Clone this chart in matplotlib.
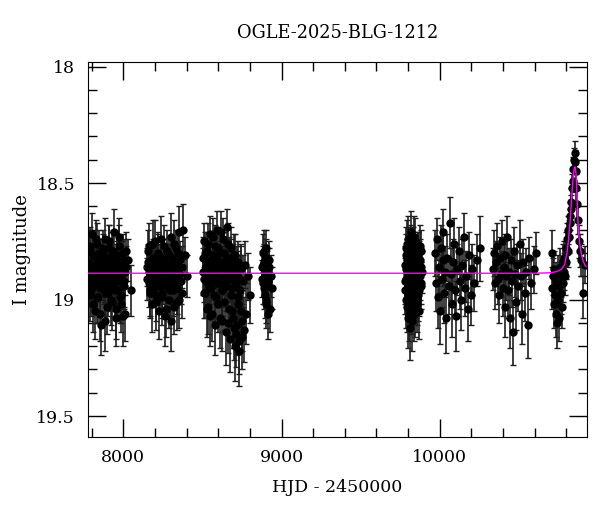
import numpy as np
import matplotlib
matplotlib.use('Agg')
import matplotlib.pyplot as plt
from matplotlib.ticker import MultipleLocator, FuncFormatter

plt.rcParams['font.family'] = ['DejaVu Serif']

# OGLE photometry, blocks per observing season
hjd_s1 = [7779, 7784, 7789, 7795, 7800, 7805, 7811, 7816, 7821, 7826, 7832, 7837,
          7842, 7848, 7853, 7858, 7863, 7869, 7874, 7879, 7885, 7890, 7895, 7900,
          7906, 7911, 7916, 7922, 7927, 7932, 7937, 7943, 7948, 7953, 7959, 7964,
          7969, 7974, 7980, 7985, 7990, 7996, 8001, 8006, 8011, 8017, 8028, 8046]
mag_s1 = [18.84, 18.93, 18.77, 18.96, 18.88, 18.81, 19.02, 18.90, 18.85, 18.74, 18.99, 18.87,
          18.92, 18.80, 19.06, 18.89, 18.83, 18.95, 18.78, 18.91, 19.09, 18.86, 18.82, 18.97,
          18.90, 18.75, 18.94, 18.88, 19.01, 18.84, 18.79, 18.93, 18.87, 19.04, 18.81, 18.90,
          18.96, 18.73, 18.89, 18.98, 18.85, 19.07, 18.83, 18.92, 18.88, 18.79, 18.83, 18.96]
err_s1 = [0.08, 0.10, 0.07, 0.11, 0.09, 0.08, 0.12, 0.09, 0.10, 0.08, 0.11, 0.09,
          0.07, 0.10, 0.12, 0.08, 0.09, 0.11, 0.08, 0.10, 0.13, 0.09, 0.08, 0.10,
          0.09, 0.07, 0.11, 0.10, 0.12, 0.08, 0.09, 0.10, 0.08, 0.13, 0.09, 0.10,
          0.11, 0.08, 0.09, 0.12, 0.10, 0.13, 0.09, 0.11, 0.10, 0.08, 0.09, 0.11]
hjd_s1b = [7781, 7787, 7792, 7797, 7802, 7808, 7813, 7818, 7824, 7829, 7834, 7840,
           7845, 7850, 7855, 7861, 7866, 7871, 7877, 7882, 7887, 7892, 7898, 7903,
           7908, 7913, 7919, 7924, 7930, 7935, 7940, 7946, 7951, 7956, 7961, 7967,
           7972, 7977, 7982, 7988, 7993, 7998, 8004, 8009, 8014]
mag_s1b = [18.90, 18.79, 18.98, 18.85, 18.72, 18.94, 18.87, 19.05, 18.82, 18.91, 18.76, 18.99,
           18.88, 18.83, 18.95, 19.11, 18.86, 18.80, 18.92, 18.74, 18.97, 18.89, 19.03, 18.84,
           18.78, 18.93, 18.86, 19.00, 18.81, 18.90, 18.71, 18.96, 18.87, 19.08, 18.83, 18.92,
           18.77, 18.99, 18.85, 19.02, 18.88, 18.80, 18.94, 19.06, 18.86]
err_s1b = [0.09, 0.10, 0.11, 0.08, 0.09, 0.10, 0.09, 0.12, 0.08, 0.10, 0.09, 0.11,
           0.08, 0.09, 0.10, 0.13, 0.09, 0.08, 0.10, 0.09, 0.11, 0.08, 0.12, 0.09,
           0.10, 0.09, 0.08, 0.11, 0.10, 0.09, 0.10, 0.11, 0.09, 0.12, 0.08, 0.10,
           0.09, 0.11, 0.10, 0.12, 0.09, 0.08, 0.10, 0.12, 0.09]

hjd_s2 = [8149, 8154, 8160, 8165, 8171, 8176, 8182, 8187, 8193, 8198, 8204, 8209,
          8215, 8220, 8226, 8231, 8237, 8242, 8248, 8253, 8259, 8264, 8270, 8275,
          8281, 8286, 8292, 8297, 8303, 8308, 8314, 8319, 8325, 8330, 8336, 8341,
          8347, 8352, 8358, 8364, 8371, 8380, 8392, 8403]
mag_s2 = [18.86, 18.79, 18.93, 18.88, 18.97, 18.83, 18.90, 18.76, 18.95, 18.87, 19.01, 18.84,
          18.91, 18.80, 18.89, 18.94, 18.82, 18.99, 18.86, 18.92, 18.77, 18.88, 19.04, 18.85,
          18.90, 18.81, 18.96, 18.87, 18.73, 18.93, 18.89, 19.03, 18.84, 18.91, 18.78, 18.95,
          18.88, 19.00, 18.83, 18.92, 18.86, 18.70, 18.81, 18.90]
err_s2 = [0.08, 0.09, 0.10, 0.07, 0.11, 0.08, 0.09, 0.10, 0.08, 0.09, 0.12, 0.08,
          0.10, 0.09, 0.07, 0.11, 0.09, 0.12, 0.08, 0.10, 0.09, 0.08, 0.12, 0.09,
          0.10, 0.08, 0.11, 0.09, 0.10, 0.09, 0.08, 0.12, 0.09, 0.10, 0.08, 0.11,
          0.09, 0.12, 0.08, 0.10, 0.09, 0.11, 0.08, 0.09]
hjd_s2b = [8151, 8157, 8163, 8168, 8174, 8179, 8185, 8190, 8196, 8201, 8207, 8212,
           8218, 8223, 8229, 8234, 8240, 8245, 8251, 8256, 8262, 8267, 8273, 8278,
           8284, 8289, 8295, 8300, 8306, 8311, 8317, 8322, 8328, 8333, 8339, 8344,
           8350, 8355, 8361, 8368]
mag_s2b = [18.91, 18.84, 18.77, 18.96, 18.89, 19.02, 18.82, 18.93, 18.86, 18.75, 18.98, 18.88,
           18.81, 19.05, 18.92, 18.85, 18.74, 18.97, 18.90, 18.83, 19.07, 18.87, 18.94, 18.79,
           18.91, 19.00, 18.85, 19.09, 18.82, 18.96, 18.88, 18.76, 18.93, 18.86, 19.01, 18.80,
           18.92, 18.71, 18.89, 18.97]
err_s2b = [0.09, 0.08, 0.10, 0.11, 0.09, 0.12, 0.08, 0.10, 0.09, 0.09, 0.11, 0.08,
           0.09, 0.12, 0.10, 0.09, 0.10, 0.11, 0.08, 0.09, 0.13, 0.09, 0.10, 0.09,
           0.08, 0.12, 0.09, 0.13, 0.08, 0.11, 0.09, 0.10, 0.10, 0.08, 0.12, 0.09,
           0.10, 0.11, 0.09, 0.11]

hjd_s3 = [8503, 8508, 8513, 8518, 8523, 8528, 8533, 8538, 8543, 8548, 8553, 8558,
          8563, 8568, 8573, 8578, 8583, 8588, 8593, 8598, 8603, 8608, 8613, 8618,
          8623, 8628, 8633, 8638, 8643, 8648, 8653, 8658, 8663, 8668, 8673, 8678,
          8683, 8688, 8693, 8698, 8703, 8708, 8713, 8718, 8723, 8728, 8733, 8738,
          8743, 8748, 8754, 8760, 8768, 8778, 8790, 8799]
mag_s3 = [18.82, 18.91, 18.75, 18.97, 18.86, 18.79, 19.03, 18.89, 18.84, 18.72, 18.95, 18.88,
          19.06, 18.81, 18.92, 18.77, 18.99, 18.86, 18.70, 18.93, 18.85, 19.08, 18.80, 18.90,
          18.96, 18.74, 18.88, 19.01, 18.83, 18.94, 18.69, 18.87, 19.10, 18.82, 18.91, 18.98,
          18.78, 19.05, 18.86, 19.12, 18.93, 18.81, 19.15, 18.89, 19.02, 18.84, 19.18, 18.96,
          18.87, 19.09, 18.92, 19.13, 18.85, 19.06, 18.90, 18.98]
err_s3 = [0.09, 0.10, 0.08, 0.11, 0.09, 0.08, 0.12, 0.10, 0.09, 0.08, 0.11, 0.09,
          0.12, 0.08, 0.10, 0.09, 0.11, 0.09, 0.08, 0.10, 0.09, 0.13, 0.08, 0.10,
          0.11, 0.09, 0.10, 0.12, 0.09, 0.11, 0.08, 0.10, 0.13, 0.09, 0.10, 0.12,
          0.09, 0.13, 0.10, 0.14, 0.11, 0.09, 0.14, 0.10, 0.12, 0.09, 0.14, 0.11,
          0.10, 0.13, 0.11, 0.14, 0.10, 0.13, 0.10, 0.12]
hjd_s3b = [8505, 8510, 8515, 8520, 8526, 8531, 8536, 8541, 8546, 8551, 8556, 8561,
           8566, 8571, 8576, 8581, 8586, 8591, 8596, 8601, 8606, 8611, 8616, 8621,
           8626, 8631, 8636, 8641, 8646, 8651, 8656, 8661, 8666, 8671, 8676, 8681,
           8686, 8691, 8696, 8701, 8706, 8711, 8716, 8721, 8726, 8731, 8736, 8741,
           8746, 8751]
mag_s3b = [18.88, 18.97, 18.80, 18.92, 19.04, 18.85, 18.76, 18.94, 18.87, 19.07, 18.83, 18.90,
           18.73, 18.98, 18.86, 19.11, 18.82, 18.93, 18.78, 19.02, 18.89, 18.84, 18.71, 18.96,
           19.09, 18.87, 18.80, 18.93, 19.14, 18.85, 18.91, 18.76, 19.04, 18.88, 19.17, 18.83,
           18.95, 18.90, 19.08, 18.81, 19.20, 18.94, 18.87, 19.11, 18.99, 19.22, 18.91, 19.05,
           18.86, 19.16]
err_s3b = [0.10, 0.11, 0.09, 0.10, 0.12, 0.09, 0.09, 0.11, 0.10, 0.13, 0.09, 0.10,
           0.08, 0.11, 0.09, 0.13, 0.09, 0.10, 0.09, 0.12, 0.10, 0.09, 0.09, 0.11,
           0.13, 0.10, 0.09, 0.10, 0.14, 0.09, 0.10, 0.09, 0.12, 0.10, 0.14, 0.09,
           0.11, 0.10, 0.13, 0.09, 0.15, 0.11, 0.10, 0.13, 0.12, 0.15, 0.10, 0.13,
           0.10, 0.14]

hjd_s4 = [8877, 8879, 8881, 8883, 8885, 8887, 8889, 8891, 8893, 8895, 8897, 8899,
          8901, 8903, 8905, 8908, 8910, 8913, 8915, 8918, 8921, 8927, 8933, 8939]
mag_s4 = [18.86, 18.91, 18.80, 18.85, 18.93, 18.79, 18.84, 18.95, 18.98, 18.88, 18.89, 19.00,
          18.78, 18.82, 19.02, 18.93, 18.87, 19.06, 18.92, 18.86, 18.83, 19.04, 18.90, 18.95]
err_s4 = [0.07, 0.08, 0.08, 0.08, 0.09, 0.09, 0.08, 0.09, 0.10, 0.08, 0.07, 0.10,
          0.08, 0.08, 0.10, 0.09, 0.08, 0.11, 0.09, 0.08, 0.08, 0.10, 0.09, 0.09]

hjd_s5 = [9781, 9783, 9786, 9788, 9791, 9793, 9796, 9798, 9801, 9803, 9806, 9808,
          9811, 9813, 9816, 9818, 9821, 9823, 9826, 9828, 9831, 9833, 9836, 9838,
          9841, 9843, 9846, 9848, 9851, 9853, 9856, 9858, 9861, 9864, 9867, 9870,
          9874, 9878, 9882, 9885]
mag_s5 = [18.85, 18.96, 18.78, 18.91, 19.03, 18.83, 18.89, 18.74, 18.98, 18.87, 19.06, 18.81,
          18.93, 18.86, 18.76, 19.01, 18.90, 18.84, 18.95, 19.09, 18.80, 18.88, 18.92, 18.73,
          18.97, 18.85, 19.04, 18.89, 18.82, 18.94, 18.87, 19.00, 18.79, 18.91, 18.84, 18.96,
          18.77, 18.90, 18.86, 18.93]
err_s5 = [0.08, 0.10, 0.09, 0.08, 0.11, 0.09, 0.08, 0.10, 0.11, 0.09, 0.12, 0.08,
          0.10, 0.09, 0.08, 0.11, 0.09, 0.08, 0.10, 0.13, 0.09, 0.08, 0.10, 0.09,
          0.11, 0.08, 0.12, 0.09, 0.08, 0.10, 0.09, 0.11, 0.08, 0.10, 0.09, 0.11,
          0.09, 0.10, 0.08, 0.09]
hjd_s5b = [9782, 9784, 9787, 9789, 9792, 9794, 9797, 9799, 9802, 9804, 9807, 9809,
           9812, 9814, 9817, 9819, 9822, 9824, 9827, 9829, 9832, 9834, 9837, 9839,
           9842, 9844, 9847, 9849, 9852, 9854, 9857, 9859, 9862, 9865, 9868, 9872,
           9876, 9880, 9884, 9887]
mag_s5b = [18.92, 18.81, 19.00, 18.87, 18.76, 18.95, 19.08, 18.84, 18.90, 18.79, 18.97, 18.86,
           19.12, 18.83, 18.93, 18.71, 18.89, 19.03, 18.85, 18.94, 18.78, 18.99, 18.88, 19.06,
           18.82, 18.91, 18.75, 18.96, 18.87, 19.02, 18.84, 18.92, 18.80, 18.98, 18.89, 19.05,
           18.83, 18.94, 18.79, 18.88]
err_s5b = [0.10, 0.09, 0.12, 0.08, 0.10, 0.11, 0.13, 0.09, 0.09, 0.10, 0.11, 0.08,
           0.14, 0.09, 0.10, 0.09, 0.08, 0.12, 0.09, 0.10, 0.09, 0.11, 0.08, 0.12,
           0.09, 0.10, 0.10, 0.11, 0.08, 0.12, 0.09, 0.10, 0.09, 0.11, 0.08, 0.12,
           0.09, 0.10, 0.09, 0.09]

hjd_s6 = [9972, 9978, 9983, 9989, 9995, 10000, 10006, 10012, 10018, 10024, 10030, 10036,
          10042, 10049, 10056, 10063, 10070, 10077, 10084, 10091, 10098, 10105, 10112, 10120,
          10128, 10136, 10144, 10152, 10160, 10168, 10177, 10186, 10196, 10207, 10220, 10236,
          10252]
mag_s6 = [18.80, 18.93, 18.74, 18.99, 18.86, 19.05, 18.78, 18.91, 18.83, 18.71, 18.97, 18.88,
          19.08, 18.82, 18.94, 18.67, 18.89, 19.02, 18.84, 18.76, 18.96, 19.07, 18.87, 18.79,
          18.92, 19.00, 18.85, 18.73, 18.95, 18.90, 19.04, 18.81, 18.98, 18.87, 18.93, 18.83,
          18.78]
err_s6 = [0.10, 0.12, 0.09, 0.13, 0.11, 0.14, 0.10, 0.12, 0.11, 0.10, 0.13, 0.11,
          0.15, 0.10, 0.12, 0.11, 0.11, 0.14, 0.10, 0.11, 0.12, 0.15, 0.11, 0.10,
          0.12, 0.13, 0.11, 0.10, 0.12, 0.11, 0.14, 0.10, 0.13, 0.11, 0.12, 0.11,
          0.14]

hjd_s7 = [10338, 10344, 10350, 10356, 10362, 10368, 10374, 10380, 10386, 10392, 10398, 10404,
          10410, 10416, 10422, 10428, 10434, 10440, 10446, 10452, 10458, 10464, 10470, 10477,
          10484, 10491, 10498, 10505, 10512, 10520, 10528, 10537, 10546, 10556, 10567, 10580,
          10596, 10611]
mag_s7 = [18.87, 18.80, 18.93, 18.84, 18.77, 18.91, 18.98, 18.82, 18.89, 18.75, 18.95, 18.86,
          19.03, 18.81, 18.90, 18.73, 18.96, 18.88, 19.08, 18.83, 18.92, 19.14, 18.79, 18.89,
          19.01, 18.85, 18.94, 18.76, 18.90, 19.06, 18.84, 18.97, 18.88, 19.11, 18.82, 18.93,
          18.87, 18.80]
err_s7 = [0.09, 0.10, 0.11, 0.09, 0.10, 0.11, 0.12, 0.09, 0.10, 0.09, 0.12, 0.10,
          0.13, 0.09, 0.10, 0.09, 0.12, 0.10, 0.13, 0.09, 0.11, 0.14, 0.10, 0.10,
          0.12, 0.09, 0.11, 0.10, 0.10, 0.13, 0.10, 0.12, 0.10, 0.14, 0.09, 0.11,
          0.10, 0.09]

hjd_s8 = [10709, 10713, 10717, 10721, 10725, 10729, 10733, 10737, 10741, 10745, 10749, 10753,
          10757, 10761, 10765, 10769, 10773, 10777, 10781, 10785, 10789, 10793, 10797, 10801,
          10805, 10809, 10813, 10817, 10821, 10825, 10829, 10833, 10837, 10841, 10845, 10849,
          10853, 10857, 10861, 10865, 10869, 10874, 10880, 10887, 10895, 10906, 10918]
mag_s8 = [18.80, 18.95, 18.90, 19.02, 18.87, 18.98, 19.06, 18.92, 19.10, 18.89, 19.00, 18.94,
          19.08, 18.86, 18.97, 18.91, 19.03, 18.84, 18.93, 18.88, 18.82, 18.90, 18.78, 18.84,
          18.74, 18.79, 18.70, 18.73, 18.64, 18.67, 18.58, 18.61, 18.52, 18.49, 18.44, 18.40,
          18.37, 18.41, 18.45, 18.52, 18.59, 18.66, 18.75, 18.79, 18.83, 18.97, 18.85]
err_s8 = [0.10, 0.09, 0.08, 0.10, 0.08, 0.09, 0.10, 0.08, 0.11, 0.08, 0.09, 0.08,
          0.10, 0.08, 0.09, 0.08, 0.09, 0.08, 0.08, 0.08, 0.07, 0.08, 0.07, 0.07,
          0.07, 0.07, 0.06, 0.07, 0.06, 0.06, 0.06, 0.06, 0.06, 0.05, 0.05, 0.05,
          0.05, 0.05, 0.05, 0.06, 0.06, 0.06, 0.07, 0.07, 0.07, 0.11, 0.08]

# microlensing model
model_hjd = [7700, 10600, 10700, 10740, 10770, 10790, 10805, 10815, 10825, 10835, 10843,
             10850, 10856, 10862, 10868, 10874, 10882, 10892, 10905, 10920, 11000]
model_mag = [18.887, 18.887, 18.885, 18.88, 18.87, 18.85, 18.80, 18.74, 18.66, 18.56, 18.48,
             18.44, 18.43, 18.46, 18.55, 18.66, 18.74, 18.79, 18.83, 18.855, 18.88]

hjd = np.concatenate([hjd_s1, hjd_s1b, hjd_s2, hjd_s2b, hjd_s3, hjd_s3b, hjd_s4,
                      hjd_s5, hjd_s5b, hjd_s6, hjd_s7, hjd_s8])
mag = np.concatenate([mag_s1, mag_s1b, mag_s2, mag_s2b, mag_s3, mag_s3b, mag_s4,
                      mag_s5, mag_s5b, mag_s6, mag_s7, mag_s8])
err = np.concatenate([err_s1, err_s1b, err_s2, err_s2b, err_s3, err_s3b, err_s4,
                      err_s5, err_s5b, err_s6, err_s7, err_s8])

fig = plt.figure(figsize=(6, 5.12), dpi=100)
ax = fig.add_axes([0.146, 0.1465, 0.833, 0.7325])

ax.errorbar(hjd, mag, yerr=err, fmt='o', color='black', ecolor='#1e1e1e',
            elinewidth=1.2, capsize=2.5, capthick=1, markersize=5, zorder=2)
ax.plot(model_hjd, model_mag, color='magenta', linewidth=1.0, zorder=3)

ax.set_xlim(7774, 10934)
ax.set_ylim(19.59, 17.98)
ax.xaxis.set_major_locator(MultipleLocator(1000))
ax.xaxis.set_minor_locator(MultipleLocator(200))
ax.yaxis.set_major_locator(MultipleLocator(0.5))
ax.yaxis.set_minor_locator(MultipleLocator(0.1))
ax.tick_params(which='both', direction='in', top=True, right=True, labelsize=12.5)
ax.tick_params(which='major', length=13, width=1, pad=9)
ax.tick_params(which='minor', length=6.5, width=1)
ax.yaxis.set_major_formatter(FuncFormatter(lambda v, p: '%g' % v))

ax.set_xlabel('HJD - 2450000', fontsize=12.5, labelpad=9)
ax.set_ylabel('I magnitude', fontsize=13, labelpad=4)
fig.text(0.5625, 0.935, 'OGLE-2025-BLG-1212', ha='center', va='center', fontsize=12.8)

plt.savefig('out.png', dpi=100)
